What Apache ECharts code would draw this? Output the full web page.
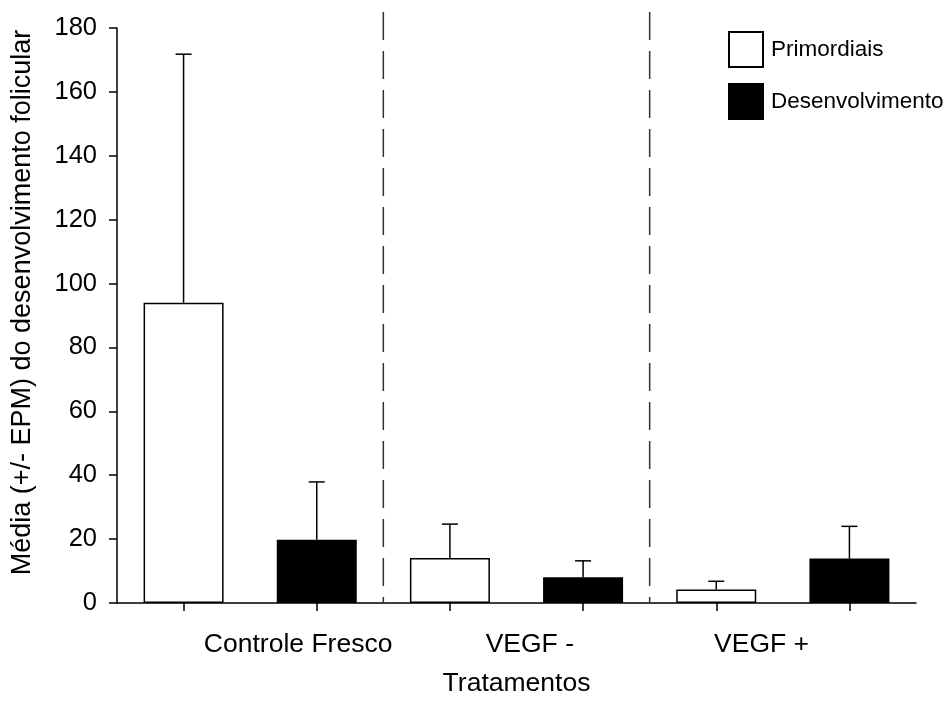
<!DOCTYPE html>
<html>
<head>
<meta charset="utf-8">
<script src="https://cdn.jsdelivr.net/npm/echarts@6/dist/echarts.min.js"></script>
<style>html,body{margin:0;padding:0;background:#fff}#c{width:947px;height:722px}</style>
</head>
<body>
<div id="c"></div>
<script>
// ---- data ----
const categories = ['Controle Fresco', 'VEGF -', 'VEGF +'];
const seriesNames = ['Primordiais', 'Desenvolvimento'];
const primordiaisMean = [94.0, 14.1, 4.2];
const primordiaisErr = [77.8, 10.6, 2.6];
const desenvolvimentoMean = [19.8, 8.1, 13.9];
const desenvolvimentoErr = [18.1, 5.1, 10.1];
const yTickValues = [0, 20, 40, 60, 80, 100, 120, 140, 160, 180];

// ---- layout (not data) ----
const labelSlots = [1.86, 3.60, 5.34];
const separatorSlots = [2.5, 4.5];
const FONT = "'Liberation Sans', Arial, sans-serif";

const primData = primordiaisMean.map((v, i) => [2 * i + 1, v]);
const desData = desenvolvimentoMean.map((v, i) => [2 * i + 2, v]);
const errData = [];
primordiaisMean.forEach((v, i) => errData.push([2 * i + 1, v, primordiaisErr[i]]));
desenvolvimentoMean.forEach((v, i) => errData.push([2 * i + 2, v, desenvolvimentoErr[i]]));
const labelMap = {};
labelSlots.forEach((s, i) => { labelMap[s.toFixed(2)] = categories[i]; });

const chart = echarts.init(document.getElementById('c'), null, {renderer: 'canvas'});
chart.setOption({
  animation: false,
  backgroundColor: '#fff',
  textStyle: {fontFamily: FONT, color: '#000'},
  grid: {left: 117, right: 31, top: 28, bottom: 119, containLabel: false},
  legend: {
    data: seriesNames,
    orient: 'vertical',
    left: 723, top: 26,
    itemWidth: 34, itemHeight: 35, itemGap: 15,
    icon: 'rect',
    textStyle: {fontFamily: FONT, fontSize: 22.5, color: '#000', padding: [0, 0, 0, 3]}
  },
  xAxis: {
    type: 'value', min: 0.5, max: 6.5,
    name: 'Tratamentos', nameLocation: 'middle', nameGap: 67,
    nameTextStyle: {fontFamily: FONT, fontSize: 26.5, color: '#000'},
    splitLine: {show: false},
    axisLine: {show: true, onZero: false, lineStyle: {color: '#000', width: 1.5}},
    axisTick: {show: true, customValues: [1, 2, 3, 4, 5, 6], length: 8, lineStyle: {color: '#000', width: 1.5}},
    axisLabel: {
      customValues: labelSlots, margin: 28,
      fontFamily: FONT, fontSize: 26.5, color: '#000',
      formatter: v => labelMap[Number(v).toFixed(2)] || ''
    }
  },
  yAxis: {
    type: 'value', min: 0, max: 180, interval: 20,
    name: 'Média (+/- EPM) do desenvolvimento folicular', nameLocation: 'middle', nameGap: 81,
    nameTextStyle: {fontFamily: FONT, fontSize: 27, color: '#000', padding: [0, 0, 0, 26]},
    splitLine: {show: false},
    axisLine: {show: true, lineStyle: {color: '#000', width: 1.5}},
    axisTick: {show: true, length: 8, lineStyle: {color: '#000', width: 1.5}},
    axisLabel: {margin: 20, fontFamily: FONT, fontSize: 25.5, color: '#000',
      formatter: v => yTickValues.includes(v) ? String(v) : ''}
  },
  series: [
    {
      name: seriesNames[0], type: 'bar', data: primData, barWidth: 80, barGap: '-100%',
      itemStyle: {color: '#fff', borderColor: '#000', borderWidth: 1.5}, z: 2
    },
    {
      name: seriesNames[1], type: 'bar', data: desData, barWidth: 80, barGap: '-100%',
      itemStyle: {color: '#000', borderColor: '#000', borderWidth: 1.5}, z: 2
    },
    {
      name: 'err', type: 'custom', data: errData, z: 5,
      renderItem: function (params, api) {
        const x = api.value(0), y = api.value(1), e = api.value(2);
        const p0 = api.coord([x, y]);
        const p1 = api.coord([x, y + e]);
        const st = {stroke: '#000', lineWidth: 1.5};
        return {type: 'group', children: [
          {type: 'line', shape: {x1: p0[0], y1: p0[1], x2: p1[0], y2: p1[1]}, style: st},
          {type: 'line', shape: {x1: p1[0] - 8, y1: p1[1], x2: p1[0] + 8, y2: p1[1]}, style: st}
        ]};
      }
    },
    {
      name: 'sep', type: 'custom', data: separatorSlots.map(s => [s]), z: 1,
      renderItem: function (params, api) {
        const x = api.value(0);
        const p0 = api.coord([x, 0]);
        const pt = api.coord([x, 180]);
        return {type: 'line', shape: {x1: p0[0], y1: pt[1] - 16, x2: p0[0], y2: p0[1]},
          style: {stroke: '#333', lineWidth: 1.5, lineDash: [28, 11]}};
      }
    }
  ]
});
</script>
</body>
</html>
